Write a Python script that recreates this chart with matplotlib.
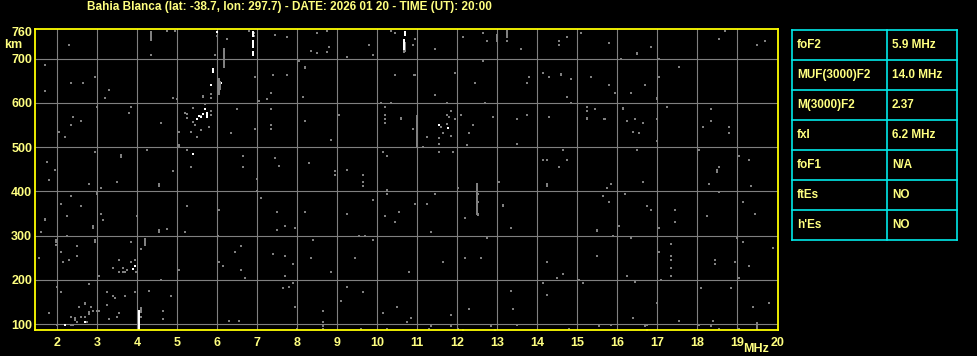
import matplotlib
matplotlib.use('Agg')
import matplotlib.pyplot as plt

# ionogram Bahia Blanca 2026-01-20 20:00 UT

title = 'Bahia Blanca (lat: -38.7, lon: 297.7) - DATE: 2026 01 20 - TIME (UT): 20:00'

freq_grid = [2, 3, 4, 5, 6, 7, 8, 9, 10, 11, 12, 13, 14, 15, 16, 17, 18, 19]
km_grid = [100, 200, 300, 400, 500, 600, 700]

table_labels = ['foF2', 'MUF(3000)F2', 'M(3000)F2', 'fxI', 'foF1', 'ftEs', "h'Es"]
table_values = ['5.9 MHz', '14.0 MHz', '2.37', '6.2 MHz', 'N/A', 'NO', 'NO']

# grey echoes (MHz, km)
grey_dots_low = [
    (2.28, 731), (1.69, 686), (2.34, 645), (2.64, 645), (2.94, 658), (3.29, 630),
    (3.18, 612), (1.69, 626), (4.33, 708), (4.74, 763), (4.94, 763), (5.98, 750),
    (5.94, 708), (4.88, 612), (4.98, 608), (2.98, 590), (3.84, 590), (3.79, 576),
    (2.39, 567), (2.59, 558), (2.34, 549), (2.04, 535), (2.19, 522), (4.59, 554),
    (5.19, 576), (5.24, 565), (5.39, 589), (5.39, 557), (5.44, 549), (5.59, 538),
    (5.69, 598), (5.79, 545), (5.84, 581), (5.84, 572), (5.34, 535), (5.49, 522),
    (5.04, 535), (5.84, 612), (5.84, 620), (5.24, 574), (5.59, 570),
    (5.24, 494), (4.23, 494), (2.94, 490), (1.74, 467), (1.94, 449), (1.79, 426),
    (2.79, 417), (3.49, 422), (3.09, 408), (4.89, 445), (5.34, 454),
    (2.34, 390), (2.09, 372), (2.59, 367), (2.24, 345), (1.59, 308), (2.24, 299),
    (3.09, 349), (3.14, 335), (3.99, 345), (4.74, 314), (5.19, 308), (5.24, 367),
    (6.03, 358), (6.01, 300), (1.96, 280), (3.84, 285), (4.09, 270), (2.49, 276),
    (2.09, 263), (2.49, 254), (1.54, 249), (2.14, 240), (2.29, 244), (3.54, 244),
    (3.84, 240), (3.94, 244), (3.39, 226), (3.64, 226), (3.74, 222), (3.69, 218),
    (3.64, 217), (3.54, 218), (3.04, 208), (3.96, 217), (5.04, 222), (4.59, 199),
    (6.14, 231), (6.03, 240), (1.99, 185), (2.09, 172), (2.79, 190), (3.24, 172),
    (3.39, 163), (3.44, 160), (3.69, 163), (3.94, 172), (4.29, 176), (4.84, 163),
    (2.54, 140), (2.84, 140), (3.24, 144), (3.04, 131), (2.89, 131), (1.79, 126),
    (2.34, 117), (2.49, 105), (2.59, 117), (2.69, 117), (2.74, 104), (2.34, 99),
    (2.39, 99), (1.99, 99), (3.29, 112), (3.49, 117), (3.54, 126), (4.64, 131),
    (4.64, 112), (3.00, 131), (4.09, 127), (4.09, 117),
]

grey_dots_mid = [
    (6.79, 763), (6.92, 758), (6.92, 750), (7.44, 754), (7.74, 749), (8.49, 758),
    (8.74, 763), (8.79, 727), (8.34, 717), (8.49, 713), (9.24, 704), (9.79, 731),
    (9.89, 708), (10.34, 763), (10.44, 758), (10.89, 731), (10.92, 663), (6.24, 745),
    (8.04, 695), (7.39, 663), (7.74, 663), (6.94, 658), (7.34, 622), (7.24, 608),
    (7.04, 604), (8.14, 613), (10.44, 663), (6.49, 586), (7.34, 586), (6.34, 531),
    (6.94, 540), (7.34, 549), (7.34, 540), (8.19, 558), (8.84, 517), (9.04, 572),
    (10.09, 599), (10.19, 590), (10.34, 599), (10.19, 572), (10.19, 563), (10.19, 554),
    (10.89, 540), (6.64, 481), (6.64, 454), (7.44, 476), (7.54, 458), (8.29, 463),
    (8.94, 445), (8.94, 436), (9.24, 449), (9.64, 436), (9.64, 422), (9.64, 413),
    (10.14, 490), (10.24, 481), (10.24, 404), (10.24, 395), (9.89, 381), (6.99, 427),
    (6.99, 400), (7.09, 385), (7.49, 354), (8.19, 354), (7.69, 322), (7.49, 313),
    (7.94, 317), (9.24, 349), (10.19, 344), (10.54, 354), (10.44, 331), (10.94, 372),
    (6.59, 276), (6.44, 263), (6.59, 222), (6.69, 204), (7.39, 258), (7.69, 254),
    (7.89, 235), (7.69, 208), (8.39, 290), (8.34, 249), (8.84, 217), (9.44, 249),
    (9.54, 299), (9.69, 299), (9.89, 290), (10.79, 217), (7.89, 194), (7.79, 185),
    (7.64, 181), (9.24, 185), (9.64, 172), (9.09, 153), (7.94, 140), (8.64, 131),
    (10.49, 140), (10.14, 126), (10.84, 113), (10.74, 104), (6.29, 108), (6.54, 108),
    (8.64, 104), (8.64, 95), (7.99, 90), (8.64, 90), (9.59, 90), (10.24, 90),
]

grey_dots_high = [
    (10.94, 745), (11.44, 722), (12.14, 749), (12.64, 758), (12.74, 740), (13.24, 740),
    (13.59, 722), (14.54, 740), (14.54, 731), (14.74, 749), (15.09, 758),
    (12.64, 695), (11.94, 667), (12.44, 645), (11.44, 617), (13.79, 658), (13.74, 645),
    (14.14, 667), (14.29, 658), (14.84, 653), (14.74, 613), (15.34, 658), (10.94, 663),
    (11.14, 500), (11.74, 572), (11.84, 581), (11.94, 563), (11.79, 567), (11.59, 545),
    (11.74, 553), (11.64, 531), (11.84, 526), (11.54, 520), (11.24, 522), (11.54, 508),
    (11.54, 490), (11.89, 490), (12.09, 572), (12.39, 549), (12.29, 531), (12.24, 504),
    (12.69, 599), (11.74, 599), (12.89, 567), (13.49, 563), (13.74, 572),
    (13.49, 508), (14.29, 567), (15.24, 590), (15.24, 581), (15.44, 586), (15.67, 563),
    (14.84, 599), (14.64, 494), (14.14, 472), (14.24, 472), (14.74, 472), (14.54, 454),
    (12.02, 408), (13.04, 422), (12.52, 394), (12.52, 376), (11.44, 394), (11.24, 372),
    (10.94, 372), (12.19, 340), (11.34, 308), (13.34, 317), (15.64, 390), (12.74, 294),
    (11.64, 240), (12.19, 249), (12.59, 249), (14.24, 240), (14.64, 213), (14.49, 204),
    (15.49, 253), (15.04, 199), (15.14, 194), (14.14, 194), (13.34, 176), (14.24, 167),
    (12.29, 135), (13.39, 135), (11.84, 122), (13.49, 99), (11.34, 95), (11.84, 95),
    (12.84, 95), (15.54, 95), (12.14, 88), (12.94, 88),
    (15.79, 736), (16.84, 727), (16.09, 699), (17.04, 699), (17.54, 681), (17.04, 658),
    (18.54, 745), (18.69, 763), (19.49, 731), (19.69, 740), (15.79, 640), (15.94, 622),
    (16.34, 622), (16.69, 640), (15.69, 563), (16.24, 558), (16.44, 563), (16.64, 554),
    (16.39, 535), (16.54, 531), (17.24, 590), (16.99, 563), (16.99, 513), (18.34, 586),
    (18.34, 558), (18.14, 545), (18.79, 545), (18.79, 531), (16.49, 494), (18.04, 494),
    (19.04, 481), (19.29, 472), (18.54, 454), (18.29, 417), (19.34, 413), (16.64, 422),
    (15.84, 417), (15.74, 408), (15.64, 390), (16.19, 395), (15.79, 376), (16.74, 367),
    (16.84, 358), (17.44, 358), (17.44, 331), (18.24, 345), (19.14, 376), (19.44, 349),
    (18.54, 399), (16.04, 322), (17.04, 317), (15.89, 299), (16.34, 294), (17.34, 281),
    (17.04, 263), (17.34, 254), (17.34, 245), (17.34, 226), (17.34, 208), (17.09, 199),
    (16.24, 208), (19.14, 285), (19.89, 272), (18.44, 245), (18.44, 235), (18.94, 240),
    (19.29, 231), (19.04, 204), (18.09, 181), (18.84, 181), (16.99, 149), (17.54, 108),
    (18.39, 108), (19.39, 140), (19.79, 149), (16.39, 113), (15.84, 99), (16.74, 99),
    (16.69, 95), (18.04, 99), (18.34, 95), (18.54, 90), (16.74, 88), (19.04, 90),
]

# grey vertical streaks (MHz, km from, km to)
grey_streaks = [
    (4.33, 739, 762), (4.19, 276, 295), (4.54, 305, 315), (4.54, 410, 418),
    (2.94, 283, 292), (1.96, 283, 292), (1.69, 333, 341), (2.89, 315, 324),
    (2.99, 392, 400), (5.03, 498, 508), (6.03, 617, 655), (6.17, 678, 723),
    (5.64, 610, 618), (10.70, 715, 738), (12.99, 738, 756), (13.24, 746, 764),
    (11.00, 500, 572), (12.49, 347, 420), (13.14, 364, 372), (10.59, 561, 569),
    (14.59, 660, 667), (14.24, 410, 418), (15.24, 562, 568), (15.49, 308, 316),
    (16.49, 708, 715), (16.99, 606, 614), (16.14, 584, 591), (18.49, 442, 450),
    (18.99, 293, 300), (19.49, 86, 105), (16.44, 193, 199), (8.19, 677, 684),
    (8.74, 712, 718), (11.29, 86, 92), (12.02, 86, 92), (14.79, 86, 92),
    (2.79, 122, 130), (2.69, 143, 150), (2.44, 108, 117), (4.09, 126, 138),
    (3.59, 476, 484), (6.06, 630, 650), (10.67, 712, 720), (12.52, 345, 352),
]

# strong echoes
white_dots = [
    (5.98, 760), (5.49, 564), (5.54, 570), (5.69, 587), (5.84, 640), (5.39, 484),
    (5.59, 567), (5.64, 575), (3.94, 231), (2.69, 105), (2.19, 99), (11.54, 549),
    (6.08, 645),
]

white_streaks = [
    (4.04, 87, 133), (6.88, 705, 718), (6.88, 724, 742), (6.88, 748, 762),
    (10.67, 720, 745), (10.68, 752, 762), (5.74, 566, 580), (5.88, 667, 678),
    (3.89, 222, 228), (11.78, 540, 546),
]

yel = '#ffff80'
W, H = 978, 356
fig = plt.figure(figsize=(W / 100, H / 100), dpi=100, facecolor='black')

ax = fig.add_axes([35 / W, 26 / H, 743 / W, 300.7 / H], facecolor='black')
ax.set_xlim(1.44, 20.02)
ax.set_ylim(87, 766)

for s in ax.spines.values():
    s.set_color('#ffff00')
    s.set_linewidth(1.3)
    s.set_zorder(5)

ax.set_xticks(freq_grid)
ax.set_yticks(km_grid)
ax.set_xticks([20], minor=True)
ax.set_xticklabels(['20'], minor=True)
ax.set_yticks([760], minor=True)
ax.set_yticklabels(['760'], minor=True)
ax.grid(True, which='major', color='#808080', linewidth=0.8)
ax.set_axisbelow(True)
ax.tick_params(which='both', length=0, colors=yel, labelsize=9)
ax.tick_params(axis='x', which='both', pad=5)
ax.tick_params(axis='y', which='both', pad=2)
for lab in ax.get_xticklabels(which='both') + ax.get_yticklabels(which='both'):
    lab.set_fontweight('bold')
    lab.set_fontfamily('Liberation Sans')

grey = '#808080'
for pts, c in [(grey_dots_low, grey), (grey_dots_mid, grey), (grey_dots_high, grey),
               (white_dots, 'white')]:
    ax.scatter([p[0] for p in pts], [p[1] for p in pts], s=3.0, marker='s',
               color=c, linewidths=0, antialiased=False, zorder=3)

ax.vlines([s[0] for s in grey_streaks], [s[1] for s in grey_streaks],
          [s[2] for s in grey_streaks], colors=grey, linewidth=1.44,
          antialiased=False, zorder=3)
ax.vlines([s[0] for s in white_streaks], [s[1] for s in white_streaks],
          [s[2] for s in white_streaks], colors='white', linewidth=1.3,
          antialiased=False, zorder=4)

fnt = dict(color=yel, fontweight='bold', family='Liberation Sans')
fig.text(289 / W, 1 - 7 / H, title, ha='center', va='center', fontsize=8.5, **fnt)
fig.text(13 / W, 1 - 45 / H, 'km', ha='center', va='center', fontsize=9, **fnt)
fig.text(756 / W, 1 - 349 / H, 'MHz', ha='center', va='center', fontsize=9, **fnt)

# parameter table
tab = fig.add_axes([792 / W, 1 - 240.3 / H, 165 / W, 210 / H], facecolor='black')
tab.set_xlim(0, 165)
tab.set_ylim(len(table_labels), 0)
tab.axis('off')
cyan = '#00e8e8'
n = len(table_labels)
for i in range(n + 1):
    tab.plot([0, 165], [i, i], color=cyan, linewidth=1.2, clip_on=False)
tab.plot([0, 0], [0, n], color=cyan, linewidth=1.2, clip_on=False)
tab.plot([95, 95], [0, n], color=cyan, linewidth=1.2, clip_on=False)
tab.plot([165, 165], [0, n], color=cyan, linewidth=1.2, clip_on=False)
for i, (lab, val) in enumerate(zip(table_labels, table_values)):
    tab.text(5, i + 0.5, lab, ha='left', va='center', fontsize=8.5, **fnt)
    tab.text(100, i + 0.5, val, ha='left', va='center', fontsize=8.5, **fnt)

fig.savefig('out.png', dpi=100, facecolor='black')
